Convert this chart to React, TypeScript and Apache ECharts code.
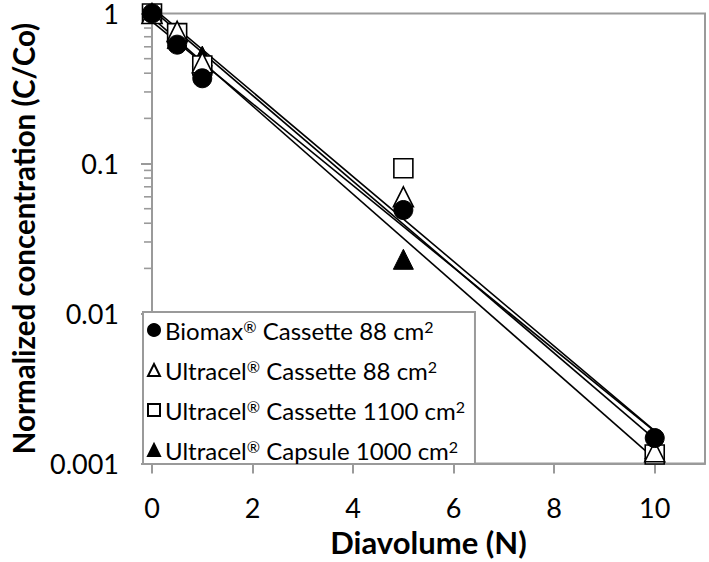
import React, { useEffect, useRef } from "react";
import * as echarts from "echarts";

// ---- data ----
const diavolumes = [0, 0.5, 1, 5, 10];
const seriesNames = [
  "Biomax® Cassette 88 cm²",
  "Ultracel® Cassette 88 cm²",
  "Ultracel® Cassette 1100 cm²",
  "Ultracel® Capsule 1000 cm²",
];
const biomaxCassette88 = [1, 0.62, 0.37, 0.049, 0.00148];
const ultracelCassette88 = [1, 0.76, 0.47, 0.06, 0.0012];
const ultracelCassette1100 = [1, 0.74, 0.45, 0.093, 0.00115];
const ultracelCapsule1000 = [1, 0.68, 0.52, 0.023, 0.00125];
const xTickValues = [0, 2, 4, 6, 8, 10];
const yTickLabels = ["0.001", "0.01", "0.1", "1"];
const yMinorTicks = [
  0.002, 0.003, 0.004, 0.005, 0.006, 0.007, 0.008, 0.009,
  0.02, 0.03, 0.04, 0.05, 0.06, 0.07, 0.08, 0.09,
  0.2, 0.3, 0.4, 0.5, 0.6, 0.7, 0.8, 0.9,
];

const FONT = "Lato";
const AXIS_GRAY = "#9a9a9a";

// exponential trendline (least squares on ln y), like a spreadsheet trendline
function expFit(xs: number[], ys: number[]) {
  const n = xs.length;
  const ls = ys.map((v) => Math.log(v));
  const mx = xs.reduce((a, b) => a + b, 0) / n;
  const my = ls.reduce((a, b) => a + b, 0) / n;
  let sxy = 0;
  let sxx = 0;
  for (let i = 0; i < n; i++) {
    sxy += (xs[i] - mx) * (ls[i] - my);
    sxx += (xs[i] - mx) * (xs[i] - mx);
  }
  const b = sxy / sxx;
  const a = my - b * mx;
  const x0 = Math.min(...xs);
  const x1 = Math.max(...xs);
  return [
    [x0, Math.exp(a + b * x0)],
    [x1, Math.exp(a + b * x1)],
  ];
}

function legendLabel(name: string) {
  const body = name.replace(/®/g, "}{sup|®}{t|").replace(/²/g, "}{sup|2}{t|");
  return "{t|" + body + "}";
}

export default function App() {
  const ref = useRef<HTMLDivElement>(null);
  useEffect(() => {
    if (!ref.current) return;
    const chart = echarts.init(ref.current, undefined, { renderer: "svg" });
    const allValues = [biomaxCassette88, ultracelCassette88, ultracelCassette1100, ultracelCapsule1000];
    const symbols = ["circle", "triangle", "rect", "triangle"];
    const filled = [true, false, false, true];
    const sizes = [19, 20, 19, 20];
    const zs = [6, 5, 4, 3];

    const scatterSeries = allValues.map((vals, i) => ({
      type: "scatter",
      name: seriesNames[i],
      data: diavolumes.map((x, j) => [x, vals[j]]),
      symbol: symbols[i],
      symbolSize: sizes[i],
      clip: false,
      z: zs[i],
      itemStyle: filled[i]
        ? { color: "#000", borderColor: "#000", borderWidth: 1, opacity: 1 }
        : { color: "#fff", borderColor: "#000", borderWidth: 1.6, opacity: 1 },
      emphasis: { disabled: true },
    }));

    const trendSeries = allValues.map((vals, i) => ({
      type: "line",
      name: "trend" + i,
      data: expFit(diavolumes, vals),
      symbol: "none",
      z: 2,
      silent: true,
      lineStyle: { color: "#000", width: 1.6 },
    }));

    const minorSeries = {
      type: "scatter",
      name: "minor",
      data: yMinorTicks.map((v) => [0, v]),
      symbol: "rect",
      symbolSize: [7, 1.6],
      symbolOffset: [-4.5, 0],
      clip: false,
      silent: true,
      z: 1,
      itemStyle: { color: AXIS_GRAY, opacity: 1 },
    };

    chart.setOption({
      animation: false,
      textStyle: { fontFamily: FONT },
      grid: {
        left: 141,
        right: 4,
        top: 12,
        bottom: 92,
        show: true,
        borderColor: AXIS_GRAY,
        borderWidth: 2,
        backgroundColor: "#fff",
      },
      legend: {
        data: seriesNames,
        orient: "vertical",
        left: 143,
        top: 312,
        padding: [6, 10, 2, 4],
        itemGap: 16,
        itemWidth: 12,
        itemHeight: 12,
        backgroundColor: "#fff",
        borderColor: AXIS_GRAY,
        borderWidth: 2,
        borderRadius: 0,
        selectedMode: false,
        formatter: (name: string) => legendLabel(name),
        textStyle: {
          fontFamily: FONT,
          color: "#000",
          rich: {
            t: { fontFamily: FONT, fontSize: 24, lineHeight: 24, color: "#000" },
            sup: { fontFamily: FONT, fontSize: 16, lineHeight: 16, verticalAlign: "top", color: "#000" },
          },
        },
      },
      xAxis: {
        type: "value",
        min: 0,
        max: 11,
        interval: 2,
        splitLine: { show: false },
        axisLine: { lineStyle: { color: AXIS_GRAY, width: 2 } },
        axisTick: { show: true, length: 10, customValues: xTickValues, lineStyle: { color: AXIS_GRAY, width: 2 } },
        axisLabel: {
          customValues: xTickValues,
          fontFamily: FONT,
          fontSize: 27,
          lineHeight: 22,
          color: "#000",
          margin: 33,
        },
        name: "Diavolume (N)",
        nameLocation: "middle",
        nameGap: 52,
        nameTextStyle: { fontFamily: FONT, fontSize: 31, lineHeight: 26, fontWeight: "bold", color: "#000" },
      },
      yAxis: {
        type: "log",
        logBase: 10,
        min: 0.001,
        max: 1,
        splitLine: { show: false },
        minorTick: { show: false },
        axisLine: { lineStyle: { color: AXIS_GRAY, width: 2 } },
        axisTick: { show: true, length: 11, lineStyle: { color: AXIS_GRAY, width: 2 } },
        axisLabel: {
          fontFamily: FONT,
          fontSize: 27,
          lineHeight: 20,
          color: "#000",
          margin: 33,
          formatter: (_v: number, idx: number) => yTickLabels[idx] ?? "",
        },
        name: "Normalized concentration (C/Co)",
        nameLocation: "middle",
        nameGap: 114,
        nameTextStyle: { fontFamily: FONT, fontSize: 29.5, fontWeight: "bold", color: "#000" },
      },
      series: [...trendSeries, minorSeries, ...scatterSeries],
    });
    return () => chart.dispose();
  }, []);
  return <div ref={ref} style={{ width: 709, height: 562, position: "absolute", left: 0, top: 0 }} />;
}
